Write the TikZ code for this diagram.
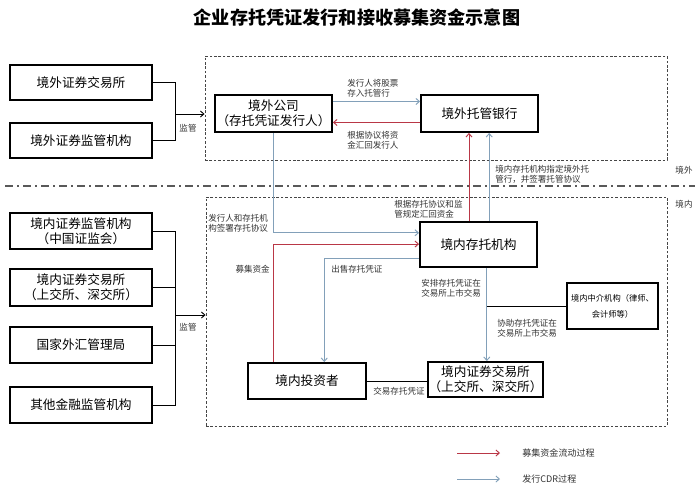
\documentclass[tikz,border=0pt]{standalone}
\usepackage{fontspec}
\setmainfont{Noto Sans CJK SC}
\usetikzlibrary{arrows.meta,calc}
\newdimen\px \px=0.75pt
\definecolor{fundred}{RGB}{185,55,70}
\definecolor{cdrblue}{RGB}{130,160,185}
\definecolor{frameg}{RGB}{70,70,70}
\tikzset{
  box/.style={draw=black, line width=1.4pt, fill=white, align=center, inner sep=0pt,
    font=\fontsize{9.5}{11.5}\selectfont},
  lbl/.style={inner sep=0pt, align=left, font=\fontsize{6.4}{7.6}\selectfont, text=black!80},
  arr/.style={-{Straight Barb[length=2.6pt,width=4.6pt]}},
  fundline/.style={draw=fundred, line width=0.7pt},
  cdrline/.style={draw=cdrblue, line width=0.7pt},
  blackline/.style={draw=black, line width=0.7pt},
  framebox/.style={draw=frameg, line width=0.7pt, dash pattern=on 2pt off 1.3pt, inner sep=0pt},
}
\begin{document}
\begin{tikzpicture}[x=0.75pt,y=-0.75pt]
\useasboundingbox (0,0) rectangle (700,494);
\fill[white] (0,0) rectangle (700,494);

% title
\node[font=\fontsize{13.6}{16}\selectfont\bfseries] (title) at (357,18) {企业存托凭证发行和接收募集资金示意图};

% frames
\node[framebox, minimum width=462\px, minimum height=104\px] (topframe) at (436,108) {};
\node[framebox, minimum width=461\px, minimum height=229\px] (lowframe) at (436.5,311.5) {};
\coordinate (sepL) at (5,186);
\coordinate (sepR) at (695,186);
\draw[draw=black!65, line width=1.1pt, dash pattern=on 6pt off 3pt on 1.5pt off 3pt] (sepL) -- (sepR);
\node[lbl] (jw) at (684,170) {境外};
\node[lbl] (jn) at (684,204) {境内};

% left boxes
\node[box, minimum width=142\px, minimum height=35\px] (ow1) at (81,82.5) {境外证券交易所};
\node[box, minimum width=142\px, minimum height=35\px] (ow2) at (81,140.5) {境外证券监管机构};
\node[box, minimum width=142\px, minimum height=36\px] (A) at (81,231) {境内证券监管机构\\（中国证监会）};
\node[box, minimum width=142\px, minimum height=37\px] (B) at (81,287.5) {境内证券交易所\\（上交所、深交所）};
\node[box, minimum width=142\px, minimum height=36\px] (C) at (81,345) {国家外汇管理局};
\node[box, minimum width=142\px, minimum height=36\px] (D) at (81,405) {其他金融监管机构};

% main boxes
\node[box, minimum width=117\px, minimum height=37\px] (comp) at (273.5,113.5) {境外公司\\（存托凭证发行人）};
\node[box, minimum width=117\px, minimum height=37\px] (bank) at (479.5,113.5) {境外托管银行};
\node[box, minimum width=117\px, minimum height=45\px] (dep) at (478.5,244.5) {境内存托机构};
\node[box, minimum width=118\px, minimum height=36\px] (inv) at (307,381) {境内投资者};
\node[box, minimum width=115\px, minimum height=35\px] (exch) at (485.5,379.5) {境内证券交易所\\（上交所、深交所）};
\node[box, line width=1.2pt, minimum width=91\px, minimum height=46\px, font=\fontsize{6.2}{12}\selectfont] (mid) at (612.5,306) {境内中介机构（律师、\\会计师等）};

% supervision brackets
\coordinate (b1) at (175,114);
\draw[blackline] (ow1.east) -| (b1);
\draw[blackline] (ow2.east) -| (b1);
\draw[blackline, arr] (b1) -- (b1 -| topframe.west);
\node[lbl] (sup1) at (188,128) {监管};
\coordinate (b2) at (175,315);
\draw[blackline] (A.east) -| (b2);
\draw[blackline] (B.east) -| (b2);
\draw[blackline] (C.east) -| (b2);
\draw[blackline] (D.east) -| (b2);
\draw[blackline, arr] (b2) -- (b2 -| lowframe.west);
\node[lbl] (sup2) at (188,327) {监管};

% company <-> bank
\coordinate (cb1) at ($(comp.north east)!0.19!(comp.south east)$);
\draw[cdrline, arr] (cb1) -- (cb1 -| bank.west);
\coordinate (cb2) at ($(comp.north east)!0.73!(comp.south east)$);
\draw[fundline, arr] (cb2 -| bank.west) -- (cb2);
\node[lbl, anchor=west] (l1) at (347,88.5) {发行人将股票\\存入托管行};
\node[lbl, anchor=west] (l2) at (347,140.5) {根据协议将资\\金汇回发行人};

% depository -> bank
\coordinate (db1) at ($(dep.north west)!0.42!(dep.north east)$);
\draw[fundline, arr] (db1) -- (db1 |- bank.south);
\coordinate (db2) at ($(dep.north west)!0.59!(dep.north east)$);
\draw[cdrline, arr] (db2) -- (db2 |- bank.south);
\node[lbl, anchor=west] (l3) at (495,174) {境内存托机构指定境外托\\管行，并签署托管协议};
\node[lbl, anchor=west] (l6) at (394,209) {根据存托协议和监\\管规定汇回资金};

% company -> depository
\coordinate (cd) at ($(dep.north west)!0.25!(dep.south west)$);
\draw[cdrline, arr] (comp.south) |- (cd);
\node[lbl, anchor=west] (l7) at (208,223) {发行人和存托机\\构签署存托协议};

% investor -> depository (funds)
\coordinate (iv1) at ($(inv.north west)!0.22!(inv.north east)$);
\coordinate (dp1) at ($(dep.north west)!0.49!(dep.south west)$);
\draw[fundline, arr] (iv1) |- (dp1);
\node[lbl, anchor=east] (l8) at (270,269) {募集资金};

% depository -> investor (sell)
\coordinate (dp2) at ($(dep.north west)!0.8!(dep.south west)$);
\coordinate (iv2) at ($(inv.north west)!0.644!(inv.north east)$);
\draw[cdrline, arr] (dp2) -| (iv2);
\node[lbl, anchor=west] (l9) at (331,269) {出售存托凭证};

% depository -> exchange
\coordinate (dd) at ($(dep.south west)!0.57!(dep.south east)$);
\draw[cdrline, arr] (dd) -- (dd |- exch.north);
\node[lbl, anchor=west] (l10) at (421,288) {安排存托凭证在\\交易所上市交易};
\draw[blackline] (dd |- mid.west) -- (mid.west);
\node[lbl, anchor=west] (l11) at (497,328.5) {协助存托凭证在\\交易所上市交易};

% investor - exchange
\draw[blackline] (inv.east) -- (inv.east -| exch.west);
\node[lbl] (l12) at (399,391) {交易存托凭证};

% legend
\coordinate (lr1) at (457,453);
\coordinate (lr2) at (500,453);
\draw[fundline, arr] (lr1) -- (lr2);
\node[lbl, anchor=west, font=\fontsize{6.8}{8}\selectfont] (lg1) at (522,453) {募集资金流动过程};
\coordinate (lb1) at (457,479);
\coordinate (lb2) at (500,479);
\draw[cdrline, arr] (lb1) -- (lb2);
\node[lbl, anchor=west, font=\fontsize{6.8}{8}\selectfont] (lg2) at (522,479) {发行CDR过程};
\end{tikzpicture}
\end{document}
